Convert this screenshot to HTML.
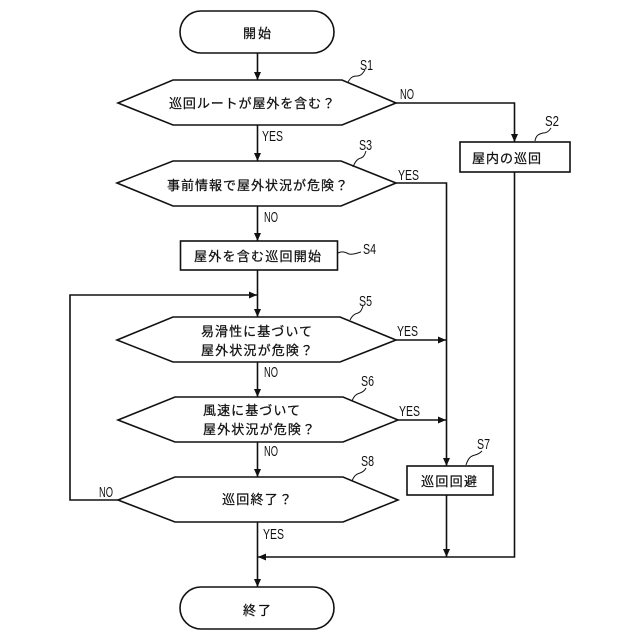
<!DOCTYPE html>
<html><head><meta charset="utf-8">
<style>
html,body{margin:0;padding:0;background:#fff}
svg{display:block}
text{font-family:"Liberation Sans","Noto Sans CJK JP",sans-serif;fill:#111}
.j{font-size:13px;stroke:#111;stroke-width:.25}
.l{font-size:14.5px}
.s{fill:none;stroke:#111;stroke-width:1.6}
.t{fill:none;stroke:#111;stroke-width:1}
.a{fill:#111;stroke:none}
</style></head><body>
<svg width="640" height="640" viewBox="0 0 640 640" xmlns="http://www.w3.org/2000/svg">
<!-- shapes -->
<rect class="s" x="180" y="11" width="154" height="42" rx="21" ry="21"/>
<polygon class="s" points="118,103 173,80 342,80 396,103 342,125 173,125"/>
<polygon class="s" points="117,183 173,161 341,161 396,183 341,206 173,206"/>
<rect class="s" x="180.500" y="241" width="157" height="29"/>
<polygon class="s" points="117,340 173,317 340,317 396,340 340,362 173,362"/>
<polygon class="s" points="118,420 175,397 343,397 398,420 343,442 175,442"/>
<polygon class="s" points="118,500 175,477 343,477 398,500 343,522 175,522"/>
<rect class="s" x="180" y="587" width="154" height="42" rx="21" ry="21"/>
<rect class="s" x="460" y="142" width="110" height="30"/>
<rect class="s" x="407" y="466" width="86" height="29"/>
<!-- connectors -->
<path class="s" d="M257.500 53V80M257.500 125V161M257.500 206V241M257.500 270V317M257.500 362V397M257.500 442V477M257.500 522V587"/>
<path class="s" d="M396 103H514.500V142M396 183H446.500V466M396 340H446M398 420H446M446.500 495V557M514.500 172V557H258M118 500H70V295H257"/>
<!-- arrowheads -->
<path class="a" d="M254 72L257.500 80L261 72Z"/>
<path class="a" d="M254 153L257.500 161L261 153Z"/>
<path class="a" d="M254 233L257.500 241L261 233Z"/>
<path class="a" d="M254 309L257.500 317L261 309Z"/>
<path class="a" d="M254 389L257.500 397L261 389Z"/>
<path class="a" d="M254 469L257.500 477L261 469Z"/>
<path class="a" d="M254 579L257.500 587L261 579Z"/>
<path class="a" d="M511 134L514.500 142L518 134Z"/>
<path class="a" d="M443 458L446.500 466L450 458Z"/>
<path class="a" d="M443 549L446.500 557L450 549Z"/>
<path class="a" d="M438 336.500L446 340L438 343.500Z"/>
<path class="a" d="M438 416.500L446 420L438 423.500Z"/>
<path class="a" d="M249 291.500L257 295L249 298.500Z"/>
<path class="a" d="M266 553.500L258 557L266 560.500Z"/>
<!-- step leaders -->
<path class="t" d="M348 82C351 77 353 76 357 76C361 76 363 73 365 70"/>
<path class="t" d="M353 167C355 162 357 159 361 158C364 157 365 154 366 151"/>
<path class="t" d="M535 141C536 135 539 134 543 133C547 133 549 131 551 128"/>
<path class="t" d="M338 253C342 251 345 252 349 254C353 255 357 253 361 252"/>
<path class="t" d="M350 320C352 316 354 314 358 313C361 312 362 309 363 306"/>
<path class="t" d="M352 401C354 396 356 394 360 393C363 392 365 390 366 388"/>
<path class="t" d="M352 481C354 476 356 474 360 473C363 472 365 470 366 468"/>
<path class="t" d="M466 465C468 459 470 456 475 455C479 454 481 452 482 451"/>
<!-- node labels -->
<text class="j" x="243" y="38" textLength="28" lengthAdjust="spacing">開始</text>
<text class="j" x="169" y="108" textLength="166" lengthAdjust="spacing">巡回ルートが屋外を含む？</text>
<text class="j" x="167" y="190" textLength="181" lengthAdjust="spacing">事前情報で屋外状況が危険？</text>
<text class="j" x="194" y="261" textLength="127" lengthAdjust="spacing">屋外を含む巡回開始</text>
<text class="j" x="201" y="336" textLength="111" lengthAdjust="spacing">易滑性に基づいて</text>
<text class="j" x="201" y="355" textLength="112" lengthAdjust="spacing">屋外状況が危険？</text>
<text class="j" x="203" y="415" textLength="97" lengthAdjust="spacing">風速に基づいて</text>
<text class="j" x="203" y="434" textLength="112" lengthAdjust="spacing">屋外状況が危険？</text>
<text class="j" x="222" y="504" textLength="70" lengthAdjust="spacing">巡回終了？</text>
<text class="j" x="243" y="615" textLength="28" lengthAdjust="spacing">終了</text>
<text class="j" x="472" y="163" textLength="69" lengthAdjust="spacing">屋内の巡回</text>
<text class="j" x="421" y="486" textLength="56" lengthAdjust="spacing">巡回回避</text>
<!-- connector labels -->
<text class="l" x="400" y="99" textLength="14" lengthAdjust="spacingAndGlyphs">NO</text>
<text class="l" x="262" y="141" textLength="21" lengthAdjust="spacingAndGlyphs">YES</text>
<text class="l" x="398" y="180" textLength="21" lengthAdjust="spacingAndGlyphs">YES</text>
<text class="l" x="264" y="222" textLength="14" lengthAdjust="spacingAndGlyphs">NO</text>
<text class="l" x="397" y="336" textLength="21" lengthAdjust="spacingAndGlyphs">YES</text>
<text class="l" x="264" y="377" textLength="14" lengthAdjust="spacingAndGlyphs">NO</text>
<text class="l" x="399" y="416" textLength="21" lengthAdjust="spacingAndGlyphs">YES</text>
<text class="l" x="264" y="456" textLength="14" lengthAdjust="spacingAndGlyphs">NO</text>
<text class="l" x="99" y="497" textLength="14" lengthAdjust="spacingAndGlyphs">NO</text>
<text class="l" x="263" y="539" textLength="21" lengthAdjust="spacingAndGlyphs">YES</text>
<!-- step labels -->
<text class="l" x="360" y="70" textLength="13" lengthAdjust="spacingAndGlyphs">S1</text>
<text class="l" x="359" y="150" textLength="13" lengthAdjust="spacingAndGlyphs">S3</text>
<text class="l" x="545" y="126" textLength="14" lengthAdjust="spacingAndGlyphs">S2</text>
<text class="l" x="363" y="254" textLength="13" lengthAdjust="spacingAndGlyphs">S4</text>
<text class="l" x="359" y="306" textLength="13" lengthAdjust="spacingAndGlyphs">S5</text>
<text class="l" x="361" y="386" textLength="13" lengthAdjust="spacingAndGlyphs">S6</text>
<text class="l" x="361" y="466" textLength="13" lengthAdjust="spacingAndGlyphs">S8</text>
<text class="l" x="477" y="449" textLength="13" lengthAdjust="spacingAndGlyphs">S7</text>
</svg>
</body></html>
